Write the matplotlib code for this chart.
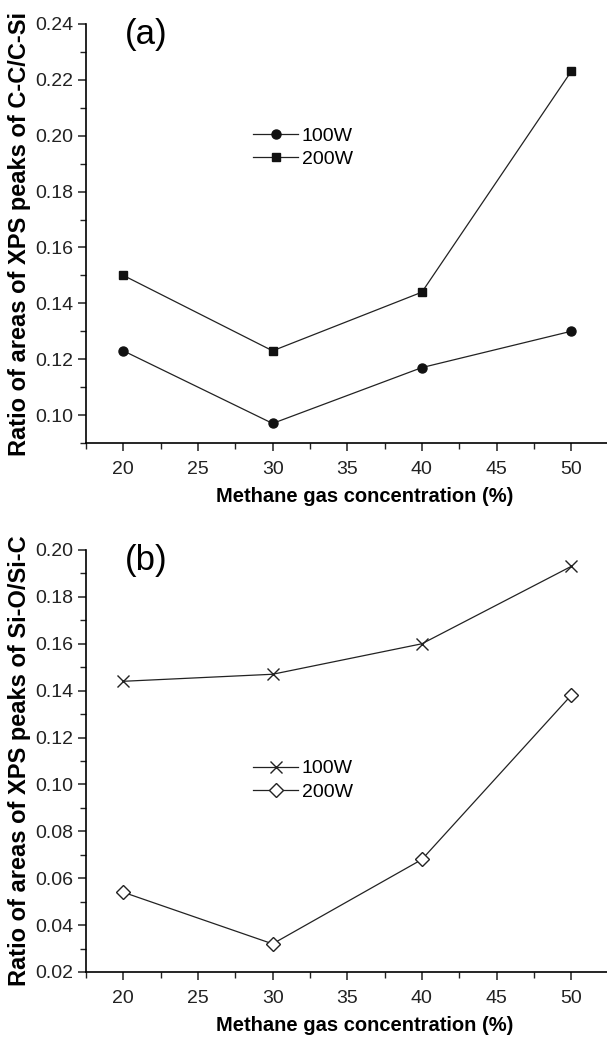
#!/usr/bin/env python3
"""XPS peak-area ratios vs methane concentration, two stacked panels."""

import matplotlib
matplotlib.use("Agg")
import matplotlib.pyplot as plt
from matplotlib.ticker import MultipleLocator

plt.rcParams.update({
    "font.family": ["Liberation Sans", "DejaVu Sans"],
    "font.size": 14,
    "axes.linewidth": 1.2,
    "xtick.direction": "out",
    "ytick.direction": "out",
    "xtick.major.size": 6,
    "ytick.major.size": 6,
    "xtick.minor.size": 4,
    "ytick.minor.size": 4,
    "xtick.major.width": 1.1,
    "ytick.major.width": 1.1,
    "xtick.minor.width": 1.0,
    "ytick.minor.width": 1.0,
})

# Methane gas concentration (%)
methane = [20, 30, 40, 50]

# (a) C-C / C-Si area ratio
cc_100w = [0.123, 0.097, 0.117, 0.130]
cc_200w = [0.150, 0.123, 0.144, 0.223]

# (b) Si-O / Si-C area ratio
sio_100w = [0.144, 0.147, 0.160, 0.193]
sio_200w = [0.054, 0.032, 0.068, 0.138]

W, H = 607, 1038
fig = plt.figure(figsize=(W / 100, H / 100), dpi=100)

left = 86 / W
width = 1 - left
ax_a = fig.add_axes([left, 1 - 443 / H, width, (443 - 24) / H])
ax_b = fig.add_axes([left, 1 - 972 / H, width, (972 - 550) / H])

XMIN, XMAX = 17.5, 52.4

panels = [
    (ax_a, cc_100w, cc_200w, "o", (0.09, 0.24),
     "Ratio of areas of XPS peaks of C-C/C-Si", "(a)", 0.705),
    (ax_b, sio_100w, sio_200w, "x", (0.02, 0.20),
     "Ratio of areas of XPS peaks of Si-O/Si-C", "(b)", 0.454),
]

for ax, s100, s200, mk, ylim, ylabel, tag, leg_y in panels:
    if mk == "o":
        ax.plot(methane, s100, "-", color="#222222", lw=0.9, marker="o",
                ms=6.5, mfc="#111111", mec="#111111", label="100W")
        ax.plot(methane, s200, "-", color="#222222", lw=0.9, marker="s",
                ms=6, mfc="#111111", mec="#111111", label="200W")
    else:
        ax.plot(methane, s100, "-", color="#222222", lw=0.9, marker="x",
                ms=8.5, mew=1.0, mec="#222222", label="100W")
        ax.plot(methane, s200, "-", color="#222222", lw=0.9, marker="D",
                ms=7, mew=1.0, mfc="white", mec="#222222", label="200W")

    ax.set_xlim(XMIN, XMAX)
    ax.set_ylim(*ylim)
    ax.xaxis.set_major_locator(MultipleLocator(5))
    ax.xaxis.set_minor_locator(MultipleLocator(2.5))
    ax.yaxis.set_major_locator(MultipleLocator(0.02))
    ax.yaxis.set_minor_locator(MultipleLocator(0.01))
    ax.yaxis.set_major_formatter(lambda v, p: f"{v:.2f}")
    ax.spines["top"].set_visible(False)
    ax.spines["right"].set_visible(False)
    ax.tick_params(axis="both", which="both", labelsize=14, colors="#222222",
                   pad=3)
    ax.tick_params(axis="x", pad=7)

    ax.set_xlabel("Methane gas concentration (%)", fontsize=14.5,
                  fontweight="bold")
    ax.xaxis.set_label_coords((36.2 - XMIN) / (XMAX - XMIN), -0.105)
    ax.set_ylabel(ylabel, fontsize=17, fontweight="bold", labelpad=3)
    ax.text(0.074, 0.975, tag, transform=ax.transAxes, fontsize=25,
            ha="left", va="center")

    ax.legend(loc="center left", bbox_to_anchor=(0.321, leg_y), frameon=False,
              fontsize=14, handlelength=2.3, handletextpad=0.2,
              labelspacing=0.3, borderaxespad=0, borderpad=0)

fig.savefig("out.png", dpi=100)
